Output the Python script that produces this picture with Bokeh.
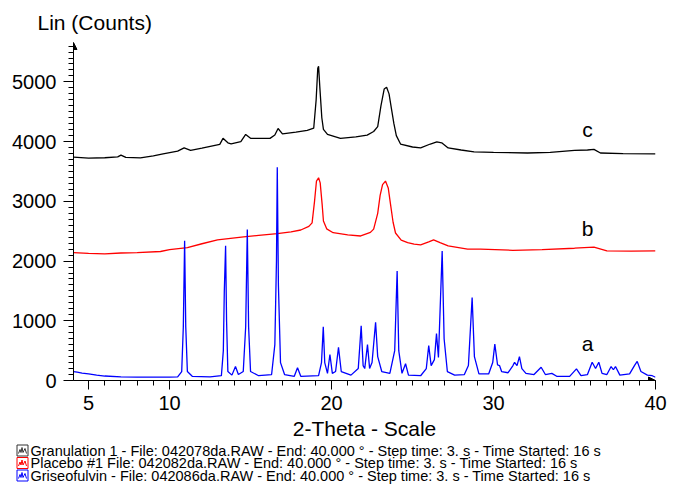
from bokeh.plotting import figure
from bokeh.layouts import column
from bokeh.models import Range1d, FixedTicker, Arrow, NormalHead
from bokeh.core.properties import value
from bokeh.embed import file_html
from bokeh.resources import INLINE

FONT = "Liberation Sans"

# ---------------- data ----------------
x_major_ticks = [5, 10, 20, 30, 40]
x_minor_ticks = list(range(5, 41))
y_major_ticks = [0, 1000, 2000, 3000, 4000, 5000]
y_minor_ticks = list(range(0, 5700, 100))

# c : Granulation 1 (black)
gran_x = [4.07, 5.0, 6.0, 6.8, 7.0, 7.3, 8.2, 9.0, 9.6, 10.5, 10.9, 11.3, 12.0, 13.1, 13.3, 13.6,
          13.8, 14.4, 14.7, 15.0, 16.2, 16.5, 16.7, 16.97, 17.8, 18.5, 18.9, 19.05, 19.15, 19.2,
          19.28, 19.4, 19.5, 19.75, 20.55, 21.5, 22.2, 22.6, 22.85, 23.05, 23.25, 23.4, 23.55,
          23.7, 23.85, 24.0, 24.26, 25.0, 25.5, 26.1, 26.5, 26.8, 27.2, 28.0, 28.8, 30.0, 32.1,
          33.5, 35.0, 35.8, 36.2, 36.6, 38.0, 40.0]
gran_y = [3740, 3725, 3730, 3745, 3775, 3735, 3728, 3760, 3795, 3840, 3895, 3855, 3890, 3955, 4055, 3980,
          3962, 4000, 4120, 4055, 4055, 4110, 4220, 4130, 4160, 4190, 4225, 4700, 5230, 5260,
          4900, 4400, 4205, 4120, 4055, 4080, 4110, 4170, 4250, 4600, 4880, 4910, 4800,
          4550, 4300, 4100, 3960, 3910, 3895, 3960, 3995, 3980, 3895, 3860, 3830, 3820, 3810,
          3820, 3855, 3860, 3870, 3810, 3800, 3795]

# b : Placebo #1 (red)
plac_x = [4.07, 5.0, 6.0, 7.0, 8.0, 9.44, 10.0, 11.1, 12.0, 12.96, 14.57, 15.5, 16.65, 17.5, 18.1,
          18.6, 18.8, 18.95, 19.07, 19.2, 19.3, 19.42, 19.5, 19.7, 20.1, 21.0, 21.8, 22.4, 22.6,
          22.85, 23.0, 23.15, 23.33, 23.5, 23.64, 23.8, 23.95, 24.3, 24.7, 25.1, 25.5, 26.0, 26.3,
          26.7, 27.2, 28.4, 29.2, 31.2, 33.0, 35.0, 36.2, 37.0, 38.5, 40.0]
plac_y = [2140, 2130, 2120, 2135, 2140, 2160, 2190, 2225, 2290, 2355, 2405, 2430, 2460, 2490, 2520,
          2580, 2640, 3000, 3340, 3395, 3310, 2950, 2670, 2540, 2475, 2440, 2420, 2480, 2535,
          2800, 3100, 3280, 3340, 3225, 2955, 2650, 2470, 2350, 2310, 2285, 2270, 2320, 2355,
          2310, 2255, 2200, 2200, 2180, 2190, 2215, 2235, 2170, 2165, 2170]

# a : Griseofulvin (blue)
gris_x = [4.07, 4.3, 4.6, 5.0, 5.5, 6.0, 7.0, 8.0, 9.0, 10.0, 10.5, 10.75, 10.85, 10.93, 11.0, 11.1,
          11.4, 12.5, 13.2, 13.32, 13.38, 13.46, 13.52, 13.6, 13.85, 14.07, 14.25, 14.55, 14.7,
          14.8, 14.88, 15.0, 15.5, 16.3, 16.5, 16.6, 16.65, 16.72, 16.85, 17.1, 17.7, 17.9, 18.1,
          19.2, 19.38, 19.49, 19.58, 19.75, 19.9, 20.05, 20.25, 20.43, 20.6, 21.2, 21.65, 21.83,
          21.95, 22.05, 22.22, 22.35, 22.5, 22.72, 22.85, 23.1, 23.6, 23.9, 24.05, 24.15, 24.35,
          24.57, 24.75, 25.5, 25.85, 26.0, 26.15, 26.35, 26.48, 26.6, 26.83, 26.95, 27.15, 27.6,
          28.2, 28.45, 28.68, 28.82, 29.1, 29.7, 29.95, 30.08, 30.25, 30.37, 30.5, 30.9, 31.2,
          31.3, 31.45, 31.6, 31.75, 32.0, 32.5, 32.94, 33.2, 33.6, 33.9, 34.7, 35.12, 35.4, 35.8,
          36.09, 36.3, 36.5, 36.7, 37.0, 37.26, 37.4, 37.53, 37.8, 38.4, 38.7, 38.87, 39.1, 39.5,
          39.8, 40.0]
gris_y = [150, 140, 125, 110, 90, 75, 62, 58, 55, 55, 60, 150, 900, 2340, 900, 150,
          70, 60, 80, 500, 1500, 2255, 1000, 150, 90, 235, 100, 150, 900,
          2530, 900, 150, 80, 100, 600, 2000, 3570, 1600, 300, 100, 70, 215, 70,
          80, 300, 900, 300, 120, 435, 120, 150, 555, 150, 90, 200, 915,
          250, 200, 600, 200, 300, 975, 400, 150, 120, 500, 1835, 500, 120,
          280, 90, 80, 200, 585, 250, 350, 785, 385, 2170, 700, 150, 90,
          100, 250, 1390, 400, 110, 110, 300, 610, 260, 250, 150, 130, 250,
          305, 250, 400, 200, 120, 100, 222, 100, 120, 70, 70, 195, 80, 100,
          305, 200, 305, 120, 100, 234, 180, 234, 90, 110, 250, 320, 150, 90,
          80, 55]

curve_labels = ["c", "b", "a"]
curve_label_x = [35.8, 35.8, 35.8]
curve_label_y = [4207, 2538, 618]

legend_labels = [
    "Granulation 1 - File: 042078da.RAW - End: 40.000 \u00b0 - Step time: 3. s - Time Started: 16 s",
    " Placebo #1 File: 042082da.RAW - End: 40.000 \u00b0 - Step time: 3. s - Time Started: 16 s",
    "Griseofulvin - File: 042086da.RAW - End: 40.000 \u00b0 - Step time: 3. s - Time Started: 16 s",
]
colors = ["#000000", "#ff0000", "#0000ff"]
icon_colors = ["#333333", "#ff0000", "#0000ff"]

X0, X1 = 4.07, 40.0
Y0, Y1 = 0, 5660

W = 667
H_MAIN = 442
H_LEG = 42

# ---------------- main figure ----------------
p = figure(width=W, height=H_MAIN, output_backend="svg", toolbar_location=None,
           x_range=Range1d(X0, X1), y_range=Range1d(Y0, Y1),
           min_border_left=73, min_border_right=12, min_border_top=41, min_border_bottom=62,
           background_fill_color="white", border_fill_color="white")
p.frame_align = False
p.outline_line_color = None
p.grid.visible = False

p.title.text = "Lin (Counts)"
p.title.text_font = FONT
p.title.text_font_size = "21px"
p.title.text_font_style = "normal"
p.title.text_color = "black"
p.title.align = "left"
p.title.offset = -36
p.title.standoff = 17

for ax in (p.xaxis[0], p.yaxis[0]):
    ax.axis_line_color = "black"
    ax.major_tick_line_color = "black"
    ax.minor_tick_line_color = "black"
    ax.major_label_text_font = FONT
    ax.major_label_text_font_size = "20px"
    ax.major_label_text_color = "black"
    ax.major_tick_in = 0
    ax.minor_tick_in = 0

p.xaxis.ticker = FixedTicker(ticks=x_major_ticks, minor_ticks=x_minor_ticks)
p.xaxis.major_tick_out = 9
p.xaxis.minor_tick_out = 5
p.xaxis.major_label_standoff = 6
p.xaxis.axis_label = "2-Theta - Scale"
p.xaxis.axis_label_text_font = FONT
p.xaxis.axis_label_text_font_size = "21px"
p.xaxis.axis_label_text_font_style = "normal"
p.xaxis.axis_label_text_color = "black"
p.xaxis.axis_label_standoff = 4

p.yaxis.ticker = FixedTicker(ticks=y_major_ticks, minor_ticks=y_minor_ticks)
p.yaxis.major_tick_out = 10
p.yaxis.minor_tick_out = 5
p.yaxis.major_label_standoff = 7

p.line(gran_x, gran_y, line_color=colors[0], line_width=1.3)
p.line(plac_x, plac_y, line_color=colors[1], line_width=1.3)
p.line(gris_x, gris_y, line_color=colors[2], line_width=1.3)

p.text(x=curve_label_x, y=curve_label_y, text=curve_labels,
       text_font=value(FONT), text_font_size="21px", text_color="black",
       text_align="center", text_baseline="middle")

# axis arrow heads
p.add_layout(Arrow(end=NormalHead(size=7, fill_color="black", line_color="black"),
                   x_start=X0, y_start=Y1 - 200, x_end=X0, y_end=Y1, line_color="black", line_width=1))
p.add_layout(Arrow(end=NormalHead(size=7, fill_color="black", line_color="black"),
                   x_start=X1 - 0.5, y_start=Y0, x_end=X1, y_end=Y0, line_color="black", line_width=1))

# ---------------- legend strip (separate small figure, pixel-like units) ----------------
leg = figure(width=W, height=H_LEG, output_backend="svg", toolbar_location=None,
             x_range=Range1d(0, W), y_range=Range1d(H_LEG, 0),
             x_axis_location=None, y_axis_location=None,
             min_border=0, background_fill_color="white", border_fill_color="white")
leg.frame_align = False
leg.title.visible = False
leg.grid.visible = False
leg.outline_line_color = None

ROW0, ROW_STEP = 8, 12.5
ICON_X, TEXT_X = 22, 30
rows = [ROW0 + i * ROW_STEP for i in range(len(legend_labels))]
icon_dx = [-4, -2.5, -1.5, -0.5, 0.5, 1.5, 2.5, 4]
icon_dy = [3, -1, 2, -3, 2, 0, -2, 3]
for ry, ic in zip(rows, icon_colors):
    leg.scatter([ICON_X], [ry], marker="square", size=11, fill_color=None, line_color=ic, line_width=1)
    leg.line([ICON_X + d for d in icon_dx], [ry + d for d in icon_dy], line_color=ic, line_width=1)
leg.text(x=[TEXT_X] * len(rows), y=rows, text=legend_labels,
         text_font=value(FONT), text_font_size="14.5px", text_color="black",
         text_align="left", text_baseline="middle")

layout = column(p, leg, spacing=0)
open("out.html", "w").write(file_html(layout, INLINE))
